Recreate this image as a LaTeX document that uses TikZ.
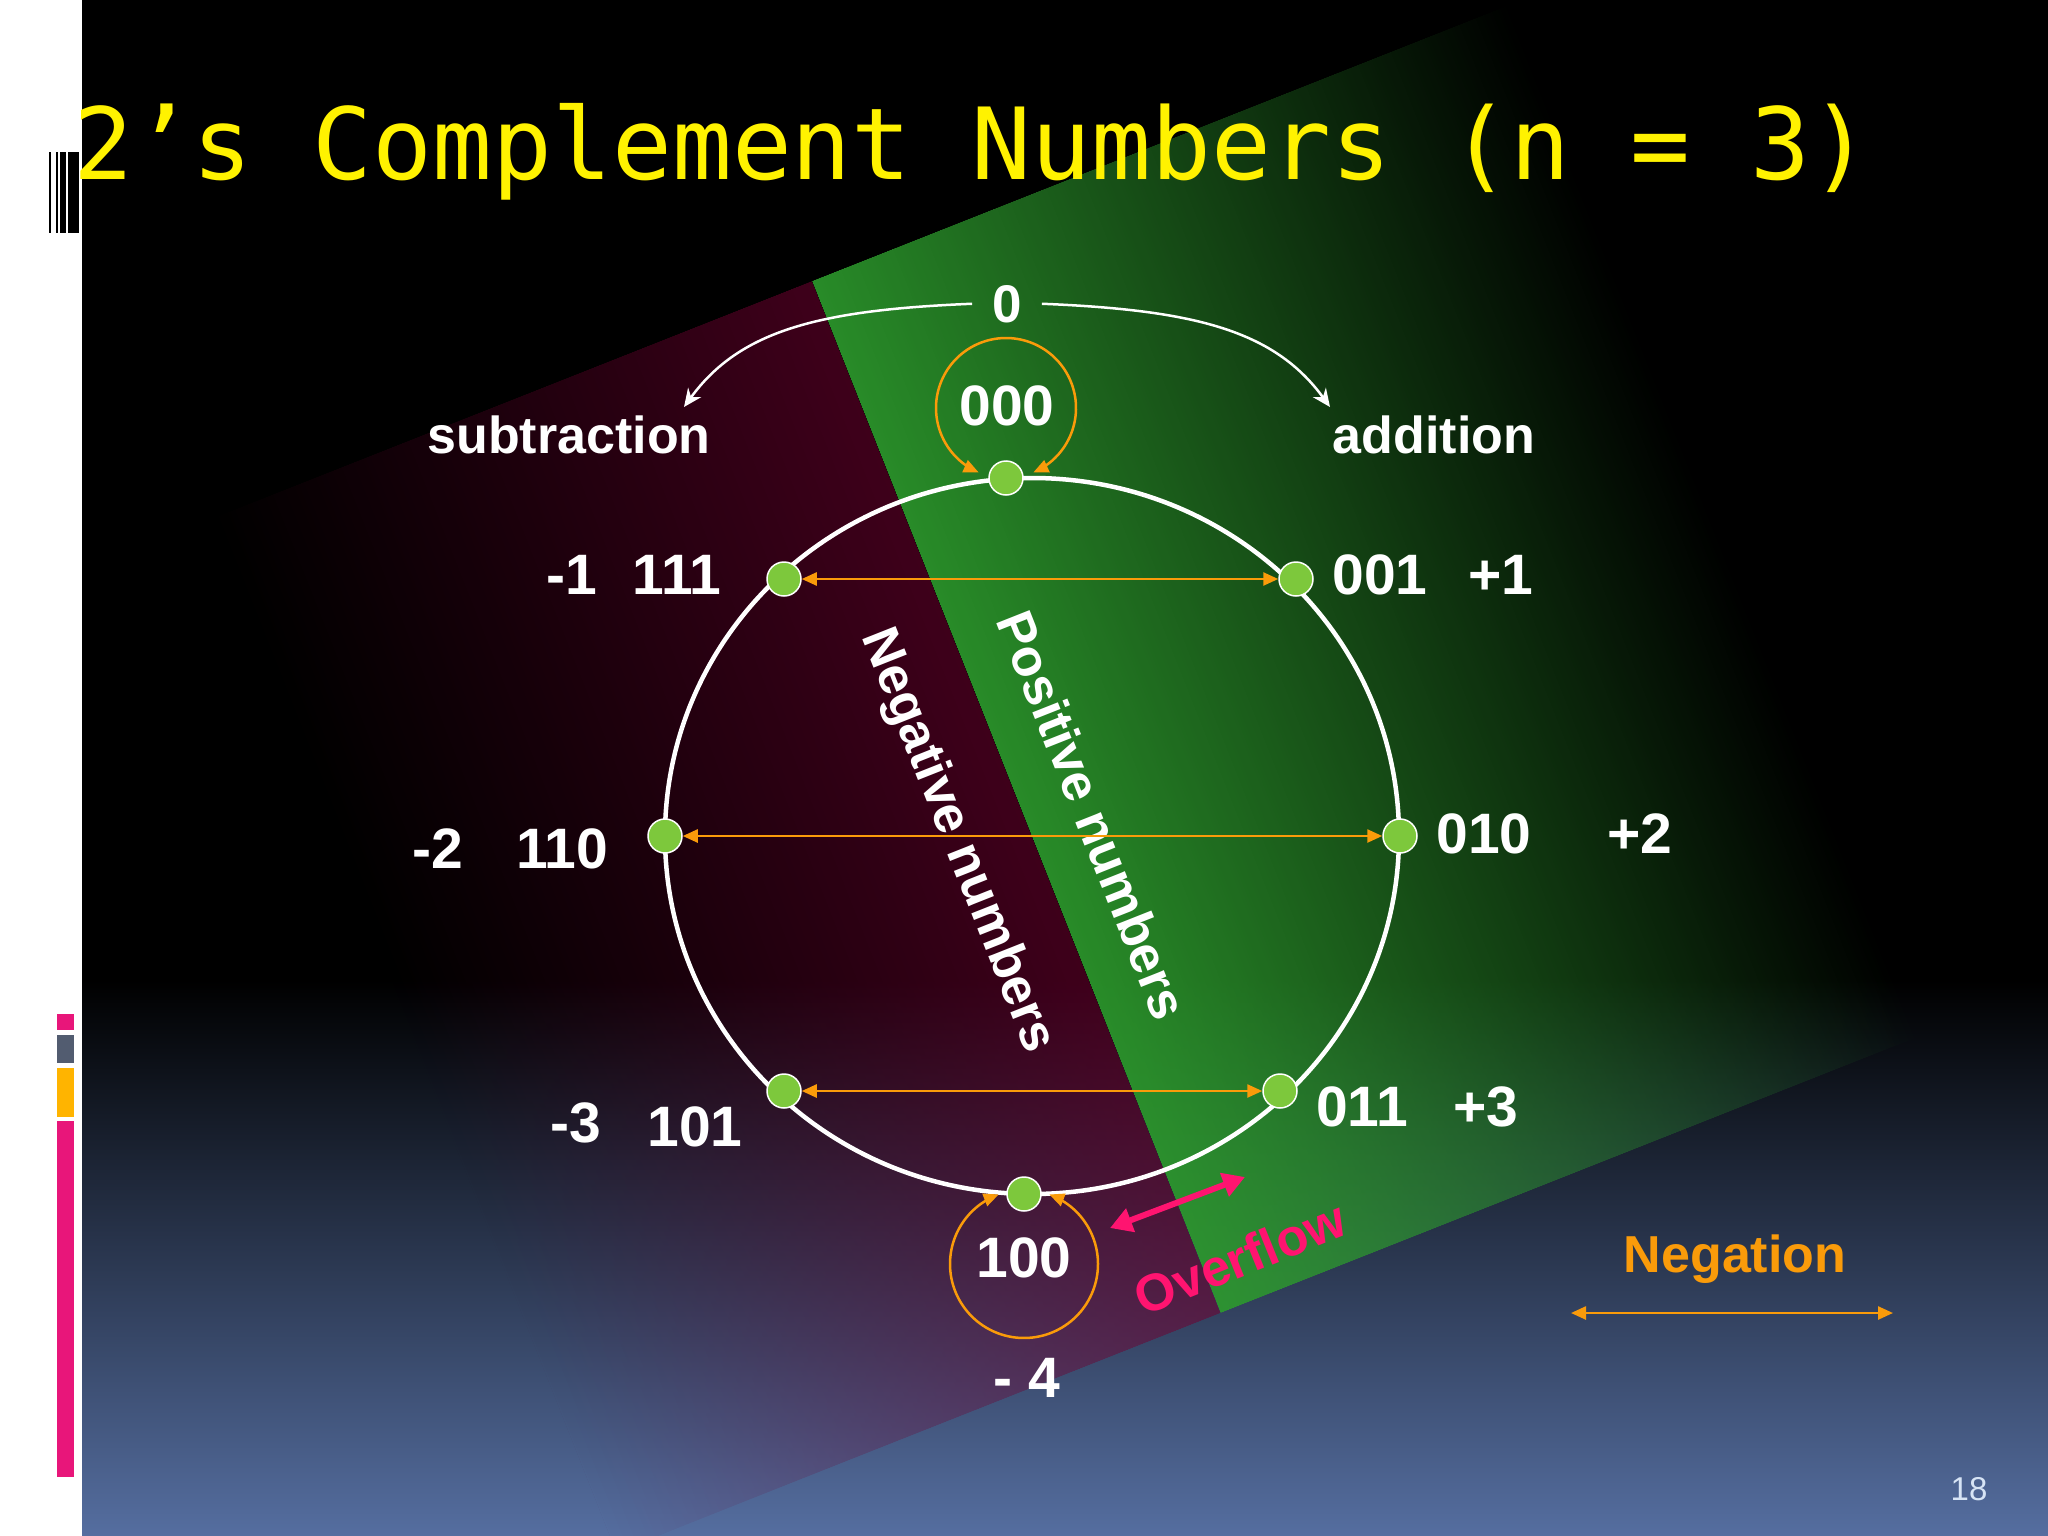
\documentclass[tikz,border=0pt]{standalone}
\usepackage{fontspec}
\setmainfont{Liberation Sans}
\newfontfamily\monofont{DejaVu Sans Mono}
\usetikzlibrary{arrows.meta,fadings}

\definecolor{bgbottom}{RGB}{85,110,160}
\definecolor{bandgreen}{RGB}{45,155,45}
\definecolor{bandmaroon}{RGB}{112,0,48}
\definecolor{orangeC}{RGB}{250,155,10}
\definecolor{pinkC}{RGB}{255,20,112}
\definecolor{barpink}{RGB}{232,22,122}
\definecolor{bargray}{RGB}{82,92,112}
\definecolor{baryellow}{RGB}{255,180,0}
\definecolor{dotgreen}{RGB}{125,200,60}
\definecolor{pagenum}{RGB}{215,228,245}

\begin{tikzfadingfrompicture}[name=gfadeP]
  \shade[left color=transparent!0, right color=transparent!100] (-375pt,-555pt) rectangle (375pt,555pt);
\end{tikzfadingfrompicture}
\begin{tikzfadingfrompicture}[name=mfadeP]
  \shade[left color=transparent!100, right color=transparent!0] (-325pt,-555pt) rectangle (325pt,555pt);
\end{tikzfadingfrompicture}

\begin{document}
\begin{tikzpicture}[x=1pt,y=-1pt,
  lbl/.style={text=white, font=\bfseries\fontsize{57}{60}\selectfont, inner sep=0pt, anchor=base},
  wlbl/.style={text=white, font=\bfseries\fontsize{52}{56}\selectfont, inner sep=0pt},
  dot/.style={circle, fill=dotgreen, draw=white, line width=1.5pt, minimum size=34pt, inner sep=0pt},
  negarrow/.style={draw=orangeC, line width=2.5pt, {Triangle[length=15pt,width=13pt]}-{Triangle[length=15pt,width=13pt]}},
  whitearrow/.style={draw=white, line width=2.5pt, -{Stealth[length=18pt,width=16pt]}},
  ovarrow/.style={draw=pinkC, line width=6pt, {Triangle[length=22pt,width=24pt]}-{Triangle[length=22pt,width=24pt]}},
  barblk/.style={fill=black}
]
\useasboundingbox (0,0) rectangle (2048,1536);
\begin{scope}
\clip (0,0) rectangle (2048,1536);
% background
\fill[black] (82,0) rectangle (2048,985);
\shade[top color=black, bottom color=bgbottom] (82,980) rectangle (2048,1536);
% bands
\begin{scope}[transform canvas={shift={(812,281)}, rotate=21.6, shift={(-325,555)}}]
  \fill[bandmaroon, fill opacity=0.56, path fading=mfadeP, fit fading=false] (-325,-555) rectangle (325,555);
\end{scope}
\begin{scope}[transform canvas={shift={(812,281)}, rotate=21.6, shift={(375,555)}}]
  \fill[bandgreen, fill opacity=0.9, path fading=gfadeP, fit fading=false] (-375,-555) rectangle (375,555);
\end{scope}
% left strip
\fill[white] (0,0) rectangle (82,1536);
\fill[barblk] (49,152) rectangle (51,233);
\fill[barblk] (56,152) rectangle (58,233);
\fill[barblk] (60,152) rectangle (66,233);
\fill[barblk] (68,152) rectangle (79,233);
\fill[barpink] (57,1014) rectangle (74,1030);
\fill[bargray] (57,1035) rectangle (74,1063);
\fill[baryellow] (57,1068) rectangle (74,1117);
\fill[barpink] (57,1121) rectangle (74,1477);
\end{scope}

% title
\node[anchor=base west, inner sep=0pt, text=yellow, font=\monofont\fontsize{99.5}{110}\selectfont] (title) at (73,179) {2’s Complement Numbers (n = 3)};

% rotated band labels
\node[wlbl, rotate=-68.4] (posl) at (1093,815) {Positive numbers};
\node[wlbl, rotate=-68.4] (negl) at (957,841) {Negative numbers};

% ring
\draw[white, line width=4.5pt] (1032,836) ellipse [x radius=367, y radius=358];

% self loops
\draw[negarrow] plot[domain=113:427, samples=120] ({1006+70*cos(\x)},{408+70*sin(\x)});
\draw[negarrow] plot[domain=-70:250, samples=120] ({1024+74*cos(\x)},{1264+74*sin(\x)});

% dots
\node[dot] (n000) at (1006,478) {};
\node[dot] (n001) at (1296,579) {};
\node[dot] (n010) at (1400,836) {};
\node[dot] (n011) at (1280,1091) {};
\node[dot] (n100) at (1024,1194) {};
\node[dot] (n101) at (784,1091) {};
\node[dot] (n110) at (665,836) {};
\node[dot] (n111) at (784,579) {};

% negation arrows
\draw[negarrow] (n111) -- (n001);
\draw[negarrow] (n110) -- (n010);
\draw[negarrow] (n101) -- (n011);

% top labels and arrows
\node[lbl, font=\bfseries\fontsize{53}{56}\selectfont, inner xsep=20pt] (zero) at (1007,322) {0};
\node[wlbl, anchor=base] (sub) at (569,453) {subtraction};
\node[wlbl, anchor=base] (add) at (1434,453) {addition};
\coordinate (subtip) at (684,407);
\coordinate (addtip) at (1330,407);
\draw[whitearrow] (zero.west) .. controls (820,310) and (740,330) .. (subtip);
\draw[whitearrow] (zero.east) .. controls (1194,310) and (1274,330) .. (addtip);

% number labels
\node[lbl] (t000) at (1007,425) {000};
\node[lbl] (m1) at (572,594) {-1};
\node[lbl] (t111) at (677,594) {111};
\node[lbl] (t001) at (1380,594) {001};
\node[lbl] (p1) at (1501,594) {+1};
\node[lbl] (m2) at (438,868) {-2};
\node[lbl] (t110) at (562,868) {110};
\node[lbl] (t010) at (1484,853) {010};
\node[lbl] (p2) at (1640,853) {+2};
\node[lbl] (m3) at (576,1142) {-3};
\node[lbl] (t101) at (695,1146) {101};
\node[lbl] (t011) at (1362,1126) {011};
\node[lbl] (p3) at (1486,1126) {+3};
\node[lbl] (t100) at (1024,1277) {100};
\node[lbl] (m4) at (1027,1397) {- 4};

% overflow
\coordinate (ovA) at (1110,1228);
\coordinate (ovB) at (1245,1177);
\draw[ovarrow] (ovA) -- (ovB);
\node[wlbl, text=pinkC, rotate=22] (ovl) at (1240,1258) {Overflow};

% legend
\node[wlbl, text=orangeC, anchor=base] (negt) at (1735,1272) {Negation};
\coordinate (legA) at (1571,1313);
\coordinate (legB) at (1893,1313);
\draw[negarrow] (legA) -- (legB);

% page number
\node[anchor=base, inner sep=0pt, text=pagenum, font=\fontsize{33}{36}\selectfont] (pnum) at (1969,1500) {18};
\end{tikzpicture}
\end{document}
